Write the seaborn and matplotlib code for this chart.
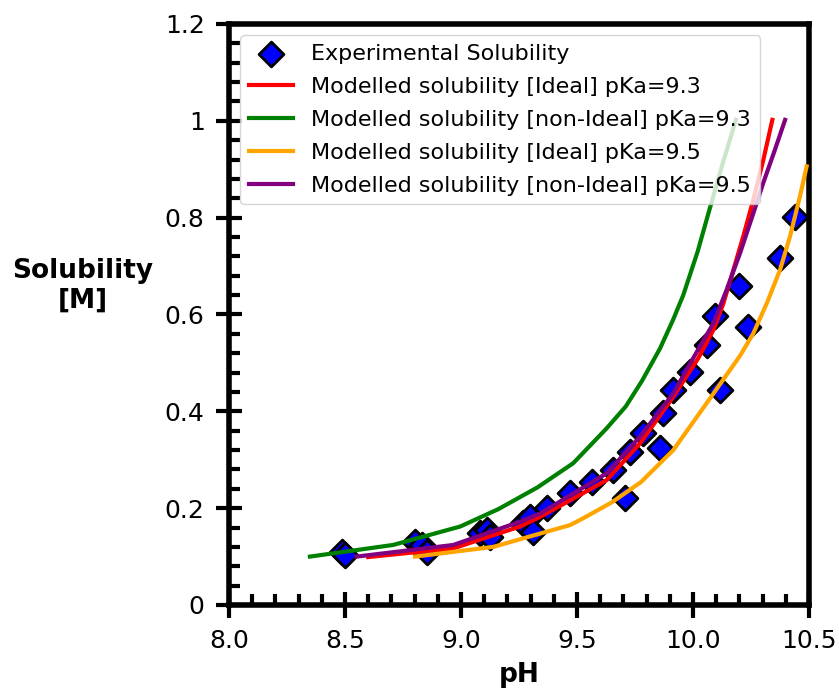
import matplotlib
matplotlib.use('Agg')
import matplotlib.pyplot as plt
import seaborn as sns
from matplotlib.ticker import MultipleLocator, FuncFormatter

exp_ph = [8.486, 8.500, 8.802, 8.831, 8.852, 9.082, 9.111, 9.125, 9.267, 9.297,
          9.310, 9.369, 9.470, 9.563, 9.656, 9.707, 9.728, 9.786, 9.858, 9.872,
          9.915, 9.987, 10.059, 10.116, 10.095, 10.238, 10.200, 10.375, 10.440]
exp_sol = [0.110, 0.103, 0.131, 0.124, 0.110, 0.149, 0.155, 0.141, 0.169, 0.182,
           0.151, 0.201, 0.231, 0.255, 0.279, 0.220, 0.317, 0.355, 0.324, 0.396,
           0.444, 0.482, 0.537, 0.444, 0.596, 0.575, 0.658, 0.716, 0.802]

# Modelled curves
ideal_93_ph = [8.600, 8.967, 9.254, 9.341, 9.628, 9.772, 9.915, 10.023, 10.088,
               10.131, 10.174, 10.217, 10.260, 10.303, 10.342]
ideal_93_sol = [0.099, 0.117, 0.162, 0.182, 0.258, 0.334, 0.430, 0.510, 0.568,
                0.623, 0.692, 0.762, 0.837, 0.919, 1.002]

nonideal_93_ph = [8.349, 8.707, 8.996, 9.161, 9.330, 9.484, 9.628, 9.710, 9.779,
                  9.858, 9.915, 9.958, 10.020, 10.073, 10.130, 10.185]
nonideal_93_sol = [0.100, 0.124, 0.162, 0.198, 0.243, 0.293, 0.365, 0.410, 0.462,
                   0.530, 0.590, 0.640, 0.730, 0.820, 0.915, 1.002]

ideal_95_ph = [8.802, 9.139, 9.300, 9.470, 9.530, 9.650, 9.776, 9.915, 10.059,
               10.203, 10.260, 10.318, 10.375, 10.418, 10.461, 10.490]
ideal_95_sol = [0.100, 0.120, 0.142, 0.165, 0.180, 0.212, 0.254, 0.320, 0.417,
                0.515, 0.561, 0.623, 0.692, 0.761, 0.844, 0.906]

nonideal_95_ph = [8.550, 8.967, 9.254, 9.341, 9.628, 9.772, 9.915, 10.001, 10.088,
                  10.145, 10.203, 10.260, 10.303, 10.353, 10.397]
nonideal_95_sol = [0.100, 0.124, 0.172, 0.189, 0.272, 0.348, 0.437, 0.510, 0.582,
                   0.651, 0.727, 0.809, 0.872, 0.940, 1.002]

fig = plt.figure(figsize=(8.39, 6.89), dpi=100)
ax = fig.add_axes([229 / 839, 1 - 605 / 689, 580 / 839, 581 / 689])

sns.scatterplot(x=exp_ph, y=exp_sol, marker='D', s=160, color='blue',
                edgecolor='black', linewidth=2, label='Experimental Solubility',
                ax=ax, zorder=2)

curves = [
    (ideal_93_ph, ideal_93_sol, 'red', 'Modelled solubility [Ideal] pKa=9.3'),
    (nonideal_93_ph, nonideal_93_sol, 'green', 'Modelled solubility [non-Ideal] pKa=9.3'),
    (ideal_95_ph, ideal_95_sol, 'orange', 'Modelled solubility [Ideal] pKa=9.5'),
    (nonideal_95_ph, nonideal_95_sol, 'purple', 'Modelled solubility [non-Ideal] pKa=9.5'),
]
for xs, ys, col, lab in curves:
    sns.lineplot(x=xs, y=ys, color=col, linewidth=3, label=lab, ax=ax, zorder=3)

ax.set_xlim(8.0, 10.5)
ax.set_ylim(0, 1.2)
ax.xaxis.set_major_locator(MultipleLocator(0.5))
ax.xaxis.set_minor_locator(MultipleLocator(0.1))
ax.yaxis.set_major_locator(MultipleLocator(0.2))
ax.yaxis.set_minor_locator(MultipleLocator(0.04))
ax.xaxis.set_major_formatter(FuncFormatter(lambda v, p: f'{v:.1f}'))
ax.yaxis.set_major_formatter(FuncFormatter(lambda v, p: f'{round(v, 2):g}'))

ax.tick_params(which='major', direction='inout', length=19, width=3,
               labelsize=18, pad=8)
ax.tick_params(which='minor', direction='in', length=8, width=3)
for sp in ax.spines.values():
    sp.set_linewidth(4)

ax.set_xlabel('pH', fontsize=19, fontweight='bold', labelpad=6)
ax.set_ylabel('Solubility\n[M]', fontsize=19, fontweight='bold', rotation=0,
              ha='center', va='center')
ax.yaxis.set_label_coords(-0.252, 0.549)

ax.legend(loc='upper left', fontsize=16, labelspacing=0.58)

plt.savefig('out.png', dpi=100)
